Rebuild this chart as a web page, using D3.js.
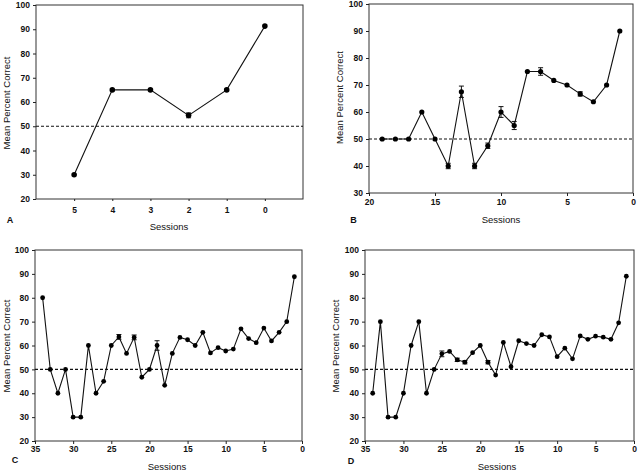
<!DOCTYPE html>
<html><head><meta charset="utf-8">
<script src="https://cdn.jsdelivr.net/npm/d3@7"></script>
<style>body{margin:0;background:#fff}svg{display:block}text{font-family:"Liberation Sans",Arial,sans-serif;fill:#111}</style>
</head><body><svg id="c" width="638" height="472"></svg>
<script>
// Panel A
const sessionsA = [5,4,3,2,1,0];
const valuesA = [30,65,65,54.5,65,91.3];
const errA = [0,0,0,1,0,0];
// Panel B
const sessionsB = [19,18,17,16,15,14,13,12,11,10,9,8,7,6,5,4,3,2,1];
const valuesB = [50,50,50,60,50,40,67.5,40,47.5,60,55,75,75,71.7,70,66.7,63.8,70,90];
const errB = [0,0,0,0,0,1,2.1,1,1,2,1.5,0,1.4,0,0,0.8,0,0,0];
// Panel C
const sessionsC = [34,33,32,31,30,29,28,27,26,25,24,23,22,21,20,19,18,17,16,15,14,13,12,11,10,9,8,7,6,5,4,3,2,1];
const valuesC = [80,50,40,50,30,30,60,40,45,60,63.6,56.7,63.4,46.7,50,60,43.3,56.7,63.4,62.4,60,65.5,56.9,59.1,57.7,58.5,67,62.9,61.2,67.3,61.9,65.5,70,88.8];
const errC = [0,0,0,0,0,0,0,0,0,0,1,0,1,0,0,2,0,0,0,0,0,0,0,0,0,0,0,0,0,0,0,0,0,0];
// Panel D
const sessionsD = [34,33,32,31,30,29,28,27,26,25,24,23,22,21,20,19,18,17,16,15,14,13,12,11,10,9,8,7,6,5,4,3,2,1];
const valuesD = [40,70,30,30,40,60,70,40,50,56.5,57.5,54,53,57,60,53,47.6,61.3,51.1,62,60.8,60,64.5,63.6,55.3,58.9,54.4,64,62.6,63.9,63.5,62.6,69.5,89];
const errD = [0,0,0,0,0,0,0,0,0,1.2,0,0.7,0.7,0,0,0.7,0,0,0,0,0,0,0,0,0,0,0,0,0,0,0,0,0,0];
// ticks
const xTicksA = [5,4,3,2,1,0];
const xTicksB = [20,15,10,5,0];
const xTicksCD = [35,30,25,20,15,10,5,0];
const yTicksA = [20,30,40,50,60,70,80,90,100];
const yTicksB = [30,40,50,60,70,80,90,100];
const chance = 50;
const letters = ["A","B","C","D"];

const svg = d3.select("#c");

const panels = [
  {s:sessionsA,v:valuesA,e:errA,xd:[6,-1],yd:[20,100],xt:xTicksA,yt:yTicksA,l:36,r:303,t:5,b:199,xTick:2,xPad:6,r0:2.8,
   letter:[10,223],title:[169,230],ylab:[9.5,103]},
  {s:sessionsB,v:valuesB,e:errB,xd:[20,0],yd:[30,100],xt:xTicksB,yt:yTicksB,l:369,r:633,t:4,b:193,xTick:3,xPad:3,r0:2.6,
   letter:[353.5,223],title:[501,222.5],ylab:[343,97.5]},
  {s:sessionsC,v:valuesC,e:errC,xd:[35,0],yd:[20,100],xt:xTicksCD,yt:yTicksA,l:35,r:302,t:250,b:441,xTick:3,xPad:2,r0:2.4,
   letter:[15,463],title:[167,470],ylab:[9.5,346]},
  {s:sessionsD,v:valuesD,e:errD,xd:[35,0],yd:[20,100],xt:xTicksCD,yt:yTicksA,l:365,r:634,t:250,b:441,xTick:3,xPad:2,r0:2.4,
   letter:[351,464],title:[497,470],ylab:[338.5,346]}
];

panels.forEach((p,i)=>{
  const x = d3.scaleLinear().domain(p.xd).range([p.l,p.r]);
  const y = d3.scaleLinear().domain(p.yd).range([p.b,p.t]);
  const g = svg.append("g");
  // frame
  g.append("rect").attr("x",p.l).attr("y",p.t).attr("width",p.r-p.l).attr("height",p.b-p.t)
    .attr("fill","none").attr("stroke","#333").attr("stroke-width",1);
  // y axis
  const ya = g.append("g").attr("transform",`translate(${p.l},0)`)
    .call(d3.axisLeft(y).tickValues(p.yt).tickSize(3).tickPadding(3).tickFormat(d3.format("d")));
  // x axis
  const xa = g.append("g").attr("transform",`translate(0,${p.b})`)
    .call(d3.axisBottom(x).tickValues(p.xt).tickSize(p.xTick).tickPadding(p.xPad).tickFormat(d3.format("d")));
  [ya,xa].forEach(a=>{
    a.select(".domain").remove();
    a.selectAll("line").attr("stroke","#222");
    a.selectAll("text").attr("font-size",8.5).attr("font-weight","bold")
      .attr("font-family","Liberation Sans, Arial, sans-serif").attr("fill","#222");
  });
  // chance line
  g.append("line").attr("x1",p.l).attr("x2",p.r).attr("y1",y(chance)).attr("y2",y(chance))
    .attr("stroke","#111").attr("stroke-width",1.1).attr("stroke-dasharray","3,2");
  const data = p.s.map((s,k)=>({s,v:p.v[k],e:p.e[k]}));
  // line
  g.append("path").datum(data).attr("fill","none").attr("stroke","#111").attr("stroke-width",1.1)
    .attr("d",d3.line().x(d=>x(d.s)).y(d=>y(d.v)));
  // error bars
  const eb = g.selectAll(".eb").data(data.filter(d=>d.e>0)).enter().append("g");
  eb.append("line").attr("x1",d=>x(d.s)).attr("x2",d=>x(d.s)).attr("y1",d=>y(d.v-d.e)).attr("y2",d=>y(d.v+d.e))
    .attr("stroke","#111").attr("stroke-width",1);
  [1,-1].forEach(sg=>{
    eb.append("line").attr("x1",d=>x(d.s)-2.5).attr("x2",d=>x(d.s)+2.5)
      .attr("y1",d=>y(d.v+sg*d.e)).attr("y2",d=>y(d.v+sg*d.e)).attr("stroke","#111").attr("stroke-width",1);
  });
  // markers
  g.selectAll("circle").data(data).enter().append("circle")
    .attr("cx",d=>x(d.s)).attr("cy",d=>y(d.v)).attr("r",p.r0).attr("fill","#000");
  // labels
  g.append("text").attr("x",p.letter[0]).attr("y",p.letter[1]).attr("font-size",9).attr("font-weight","bold")
    .attr("text-anchor","middle").text(letters[i]);
  g.append("text").attr("x",p.title[0]).attr("y",p.title[1]).attr("font-size",9.5)
    .attr("text-anchor","middle").text("Sessions");
  g.append("text").attr("transform",`translate(${p.ylab[0]},${p.ylab[1]}) rotate(-90)`).attr("font-size",9.5)
    .attr("text-anchor","middle").text("Mean Percent Correct");
});
</script></body></html>
